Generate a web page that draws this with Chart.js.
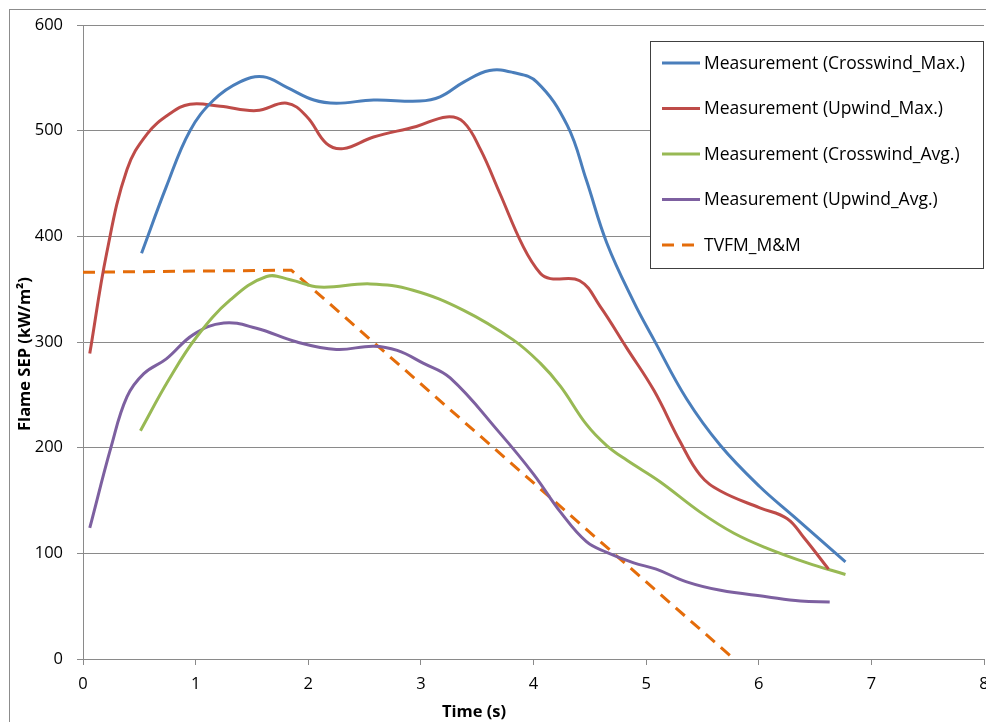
<!DOCTYPE html>
<html>
<head>
<meta charset="utf-8">
<script src="https://cdn.jsdelivr.net/npm/chart.js@4.4.1/dist/chart.umd.min.js"></script>
<style>
    html, body { margin: 0; padding: 0; background: #fff; }
    .wrap { position: relative; width: 986px; height: 722px; overflow: hidden; }
    .frame { position: absolute; left: 9px; top: 9px; width: 1000px; height: 1000px; border: 1px solid #8c8c8c; box-sizing: border-box; }
    canvas { position: absolute; left: 0; top: 0; }
</style>
</head>
<body>
<div class="wrap">
    <div class="frame"></div>
    <canvas id="sepChart" width="986" height="722"></canvas>
</div>
<script>
const crossMaxT = [0.52, 0.74, 0.95, 1.16, 1.39, 1.60, 1.81, 2.05, 2.25, 2.58, 2.99, 3.17, 3.38, 3.61, 3.82, 4.03, 4.30, 4.47, 4.65, 4.89, 5.07, 5.36, 5.66, 6.01, 6.31, 6.77];
const crossMaxSEP = [384, 447, 500, 529, 546, 551, 541, 529, 526, 529, 528, 532, 546, 557, 555, 546, 505, 453, 394, 338, 302, 246, 202, 163, 135, 92];

const upMaxT = [0.06, 0.21, 0.39, 0.57, 0.77, 0.95, 1.22, 1.54, 1.81, 1.99, 2.16, 2.31, 2.58, 2.96, 3.23, 3.38, 3.53, 3.70, 3.91, 4.06, 4.15, 4.41, 4.59, 4.83, 5.07, 5.30, 5.48, 5.66, 6.01, 6.25, 6.40, 6.62];
const upMaxSEP = [289, 384, 463, 497, 516, 525, 523, 519, 526, 513, 488, 483, 494, 504, 513, 508, 482, 441, 390, 365, 360, 358, 334, 294, 254, 206, 174, 159, 143, 133, 115, 85];

const crossAvgT = [0.51, 0.76, 1.01, 1.31, 1.63, 1.84, 2.10, 2.55, 2.93, 3.38, 3.82, 4.06, 4.24, 4.47, 4.65, 4.83, 5.12, 5.48, 5.78, 6.07, 6.43, 6.77];
const crossAvgSEP = [216, 264, 305, 340, 362, 359, 352, 355, 349, 330, 302, 280, 258, 222, 202, 188, 168, 139, 119, 105, 91, 80];

const upAvgT = [0.06, 0.25, 0.39, 0.54, 0.74, 0.98, 1.25, 1.54, 1.90, 2.25, 2.58, 2.79, 3.02, 3.26, 3.70, 4.00, 4.24, 4.47, 4.65, 4.89, 5.09, 5.36, 5.66, 6.07, 6.37, 6.63];
const upAvgSEP = [124, 201, 248, 270, 284, 307, 318, 313, 300, 293, 296, 292, 280, 266, 214, 175, 139, 111, 101, 91, 85, 73, 65, 59, 55, 54];

const tvfmT = [0, 1.85, 5.78];
const tvfmSEP = [366, 368, 0];

const seriesNames = [
    "Measurement (Crosswind_Max.)",
    "Measurement (Upwind_Max.)",
    "Measurement (Crosswind_Avg.)",
    "Measurement (Upwind_Avg.)",
    "TVFM_M&M"
];
const seriesColors = ["#4A7EBB", "#BE4B48", "#98B954", "#7D60A0", "#E46C0A"];

const xTicks = [0, 1, 2, 3, 4, 5, 6, 7, 8];
const yTicks = [0, 100, 200, 300, 400, 500, 600];

const xTitle = "Time (s)";
const yTitle = "Flame SEP (kW/m\u00B2)";

const FONT = "'Open Sans', Lato, sans-serif";
const GRID = "#8a8a8a";

function toPoints(xs, ys) {
    return xs.map((x, i) => ({ x: x, y: ys[i] }));
}

function makeSet(i, xs, ys, extra) {
    return Object.assign({
        label: seriesNames[i],
        data: toPoints(xs, ys),
        borderColor: seriesColors[i],
        backgroundColor: seriesColors[i],
        borderWidth: 3,
        pointRadius: 0,
        showLine: true,
        tension: 0.4,
        fill: false
    }, extra || {});
}

// boxed legend inside the plot (top right) plus both axis titles,
// which sit a little off the axis centres
const boxLegend = {
    id: "boxLegend",
    afterDraw(chart) {
        const ctx = chart.ctx;
        const left = 650, top = 41, right = 983, bottom = 268;
        ctx.save();
        ctx.fillStyle = "#fff";
        ctx.fillRect(left, top, right - left, bottom - top);
        ctx.strokeStyle = "#404040";
        ctx.lineWidth = 1;
        ctx.strokeRect(left + 0.5, top + 0.5, right - left, bottom - top);
        ctx.font = "17.5px " + FONT;
        ctx.textBaseline = "middle";
        chart.data.datasets.forEach((ds, i) => {
            const y = 63 + i * 45.5;
            ctx.strokeStyle = ds.borderColor;
            ctx.lineWidth = 3;
            ctx.setLineDash(ds.borderDash || []);
            ctx.beginPath();
            ctx.moveTo(662, y);
            ctx.lineTo(700, y);
            ctx.stroke();
            ctx.setLineDash([]);
            ctx.fillStyle = "#000";
            ctx.fillText(ds.label, 704, y + 1);
        });

        ctx.font = "bold 16.5px " + FONT;
        ctx.textAlign = "center";
        ctx.fillText(xTitle, 474, 712);

        ctx.translate(25, 354);
        ctx.rotate(-Math.PI / 2);
        ctx.fillText(yTitle, 0, 0);
        ctx.restore();
    }
};

new Chart(document.getElementById("sepChart"), {
    type: "scatter",
    data: {
        datasets: [
            makeSet(0, crossMaxT, crossMaxSEP),
            makeSet(1, upMaxT, upMaxSEP),
            makeSet(2, crossAvgT, crossAvgSEP),
            makeSet(3, upAvgT, upAvgSEP),
            makeSet(4, tvfmT, tvfmSEP, { tension: 0, borderDash: [12, 8] })
        ]
    },
    options: {
        responsive: false,
        animation: false,
        devicePixelRatio: 1,
        layout: { padding: { top: 25, right: 2, left: 0, bottom: 0 } },
        plugins: {
            legend: { display: false },
            tooltip: { enabled: false }
        },
        scales: {
            x: {
                type: "linear",
                min: 0,
                max: 8,
                afterBuildTicks: (scale) => { scale.ticks = xTicks.map(v => ({ value: v })); },
                afterFit: (scale) => { scale.height = 63; scale.paddingLeft = 0; scale.paddingRight = 0; },
                grid: { drawOnChartArea: false, drawTicks: true, tickLength: 6, color: GRID },
                border: { display: true, color: GRID },
                ticks: { color: "#000", font: { family: FONT, size: 16.5 }, padding: 9 }
            },
            y: {
                type: "linear",
                min: 0,
                max: 600,
                afterBuildTicks: (scale) => { scale.ticks = yTicks.map(v => ({ value: v })); },
                afterFit: (scale) => { scale.width = 83; scale.paddingTop = 0; scale.paddingBottom = 0; },
                grid: { color: GRID, tickLength: 6, lineWidth: 1 },
                border: { display: true, color: GRID },
                ticks: { color: "#000", font: { family: FONT, size: 16.5 }, padding: 14 }
            }
        }
    },
    plugins: [boxLegend]
});
</script>
</body>
</html>
